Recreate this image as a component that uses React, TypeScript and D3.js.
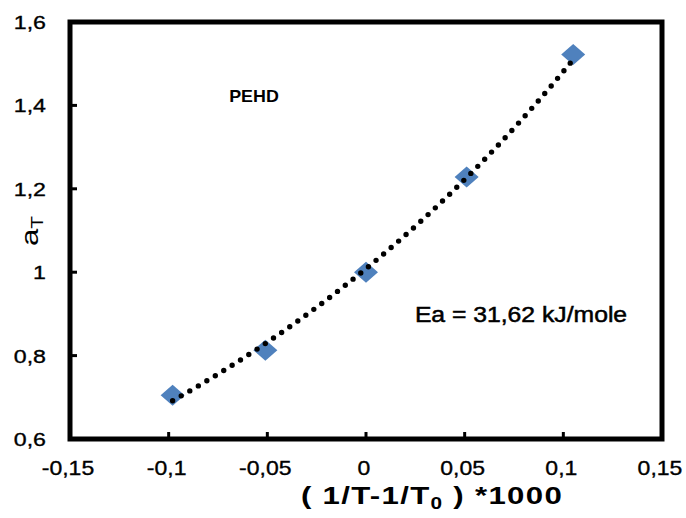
import React from 'react';
import * as d3 from 'd3';

// data
const xValues = [-0.098, -0.051, 0, 0.051, 0.105];
const aT = [0.705, 0.813, 1.0, 1.228, 1.522];
const xTicks = [-0.15, -0.1, -0.05, 0, 0.05, 0.1, 0.15];
const yTicks = [0.6, 0.8, 1, 1.2, 1.4, 1.6];

const W = 686;
const H = 518;
const margin = { top: 22, right: 24, bottom: 79, left: 70 };
const font = 'Liberation Sans, Arial, sans-serif';

const fmt = (v: number) => {
  const s = String(Math.round(v * 100) / 100);
  return s.replace('.', ',');
};

// exponential trendline, least squares on ln(y)
function expFit(xs: number[], ys: number[]) {
  const ly = ys.map(Math.log);
  const mx = d3.mean(xs) as number;
  const my = d3.mean(ly) as number;
  let sxy = 0, sxx = 0;
  xs.forEach((x, i) => {
    sxy += (x - mx) * (ly[i] - my);
    sxx += (x - mx) * (x - mx);
  });
  const b = sxy / sxx;
  const a = my - b * mx;
  return (x: number) => Math.exp(a + b * x);
}

export default function App() {
  const x = d3.scaleLinear().domain([-0.15, 0.15]).range([margin.left, W - margin.right]);
  const y = d3.scaleLinear().domain([0.6, 1.6]).range([H - margin.bottom, margin.top]);

  const f = expFit(xValues, aT);
  const [x0, x1] = d3.extent(xValues) as [number, number];
  const curvePts = d3.range(0, 61).map(i => {
    const xv = x0 + ((x1 - x0) * i) / 60;
    return [x(xv), y(f(xv))] as [number, number];
  });
  const line = d3.line().curve(d3.curveLinear)(curvePts) || '';

  const diamond = (cx: number, cy: number) =>
    `M${cx},${cy - 10.5}L${cx + 12},${cy}L${cx},${cy + 10.5}L${cx - 12},${cy}Z`;

  const x0px = margin.left;
  const x1px = W - margin.right;
  const y0px = H - margin.bottom;
  const y1px = margin.top;

  return (
    <svg width={W} height={H} style={{ position: 'absolute', left: 0, top: 0, background: '#fff' }}
      fontFamily={font}>
      <rect x={0} y={0} width={W} height={H} fill="#fff" />

      {/* ticks */}
      {yTicks.slice(1, -1).map(t => (
        <line key={'yt' + t} x1={x0px} x2={x0px + 7} y1={y(t)} y2={y(t)} stroke="#000" strokeWidth={3} />
      ))}
      {xTicks.slice(1, -1).map(t => (
        <line key={'xt' + t} x1={x(t)} x2={x(t)} y1={y0px} y2={y0px - 7} stroke="#000" strokeWidth={3} />
      ))}

      {/* frame */}
      <rect x={x0px} y={y1px} width={x1px - x0px} height={y0px - y1px} fill="none" stroke="#000" strokeWidth={5} />

      {/* tick labels */}
      {yTicks.map(t => (
        <text key={'yl' + t} transform={`translate(46,${y(t) + 7}) scale(1.22,1)`} textAnchor="end"
          fontSize={19} fill="#000" stroke="#000" strokeWidth={0.35}>{fmt(t)}</text>
      ))}
      {xTicks.map(t => (
        <text key={'xl' + t} transform={`translate(${x(t) - 2},475) scale(1.15,1)`} textAnchor="middle"
          fontSize={20} fill="#000" stroke="#000" strokeWidth={0.35}>{fmt(t)}</text>
      ))}

      {/* markers */}
      {xValues.map((xv, i) => (
        <path key={'m' + i} d={diamond(x(xv), y(aT[i]))} fill="#4f81bd" />
      ))}

      {/* trendline */}
      <path d={line} fill="none" stroke="#000" strokeWidth={5.4} strokeLinecap="round" strokeDasharray="0 9.9" />

      {/* annotations */}
      <text transform="translate(254,102) scale(1.05,1)" textAnchor="middle" fontSize={17} fontWeight="bold" fill="#000">PEHD</text>
      <text transform="translate(521,322) scale(1.15,1)" textAnchor="middle" fontSize={21.5} fill="#000"
        stroke="#000" strokeWidth={0.5}>Ea = 31,62 kJ/mole</text>

      {/* axis titles */}
      <text transform="translate(432,504) scale(1.3,1)" textAnchor="middle" fontSize={24} fontWeight="bold"
        letterSpacing={1} fill="#000">
        ( 1/T-1/T<tspan dy={5} fontSize={16}>0</tspan><tspan dy={-5}> ) *1000</tspan>
      </text>
      <text transform="translate(38,231) rotate(-90) scale(1.3,1)" textAnchor="middle" fontSize={24} fill="#000">
        a<tspan dy={5} fontSize={16}>T</tspan>
      </text>
    </svg>
  );
}
